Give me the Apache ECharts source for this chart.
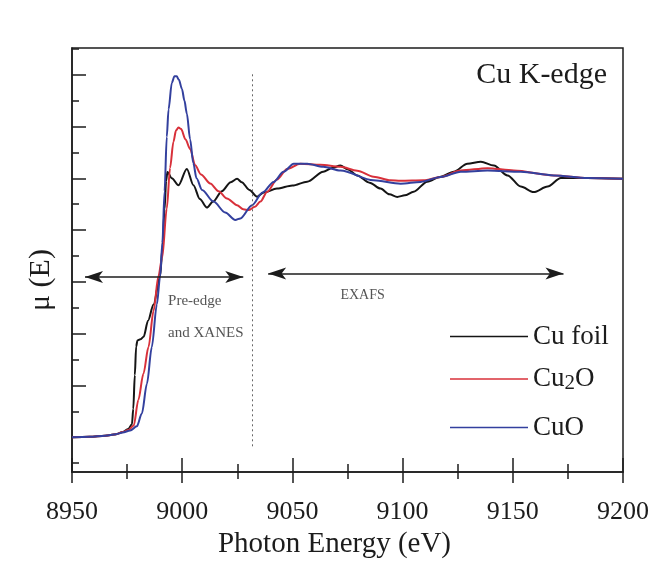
<!DOCTYPE html>
<html>
<head>
<meta charset="utf-8">
<script src="https://cdn.jsdelivr.net/npm/echarts@6/dist/echarts.min.js"></script>
<style>
  html, body { margin: 0; padding: 0; background: #fff; }
  #chart { width: 654px; height: 564px; }
</style>
</head>
<body>
<div id="chart"></div>
<script>
// axis ranges and ticks
const energyRange = [8950, 9200]
const muRange = [0.0654, 1.703]
const energyStep = 50
const muMajorTicks = [0.2, 0.4, 0.6, 0.8, 1.0, 1.2, 1.4, 1.6]
const muMinorTicks = [0.1, 0.3, 0.5, 0.7, 0.9, 1.1, 1.3, 1.5, 1.7]

// spectra: [photon energy (eV), mu(E)]
const cuFoil = [
  [8950, 0.200], [8958, 0.202], [8965, 0.206], [8970, 0.212], [8973, 0.220],
  [8975.5, 0.232], [8977.2, 0.250], [8977.8, 0.31], [8978.5, 0.44], [8979.1, 0.55],
  [8979.7, 0.574], [8981, 0.578], [8982.5, 0.588], [8984.5, 0.65], [8987, 0.713],
  [8990, 0.822], [8991, 0.93], [8992, 1.08], [8992.7, 1.19], [8993.3, 1.224],
  [8995.3, 1.200], [8998.3, 1.173], [9002.1, 1.236], [9005.1, 1.173], [9008, 1.120],
  [9011.2, 1.087], [9014, 1.110], [9018, 1.150], [9022, 1.185], [9024.9, 1.198],
  [9027, 1.185], [9030.5, 1.155], [9034, 1.129], [9037, 1.145], [9043, 1.160],
  [9050, 1.172], [9056.7, 1.187], [9064, 1.225], [9068, 1.240], [9071.8, 1.249],
  [9075, 1.235], [9079.4, 1.211], [9085, 1.183], [9090, 1.160], [9094, 1.138],
  [9097.6, 1.128], [9101, 1.134], [9105, 1.148], [9111.2, 1.187], [9117.3, 1.206],
  [9123.2, 1.225], [9129.4, 1.256], [9135.5, 1.264], [9141.4, 1.249], [9147.6, 1.211],
  [9153.6, 1.168], [9159.5, 1.147], [9165.8, 1.168], [9171.8, 1.201], [9184, 1.201],
  [9200, 1.198]
]
const cu2o = [
  [8950, 0.200], [8958, 0.202], [8965, 0.206], [8970, 0.212], [8973, 0.220],
  [8975.5, 0.228], [8978, 0.245], [8980.1, 0.344], [8982.4, 0.445], [8984.7, 0.548],
  [8987, 0.688], [8989.2, 0.822], [8990.9, 0.892], [8993, 1.083], [8994.5, 1.240],
  [8996, 1.340], [8997.2, 1.385], [8998.3, 1.396], [8999.5, 1.390], [9001.5, 1.350],
  [9003.6, 1.313], [9005.9, 1.250], [9008.5, 1.215], [9012.7, 1.180], [9016.5, 1.150],
  [9020.3, 1.122], [9024.9, 1.096], [9027.7, 1.080], [9030.1, 1.077], [9033, 1.090],
  [9035.5, 1.110], [9038.5, 1.147], [9043, 1.195], [9047.6, 1.236], [9053.6, 1.256],
  [9062.7, 1.252], [9071.8, 1.244], [9079.4, 1.229], [9086.8, 1.206], [9094.5, 1.192],
  [9099, 1.190], [9109.5, 1.192], [9117.3, 1.205], [9126.4, 1.230], [9138.5, 1.239],
  [9150.5, 1.230], [9168.6, 1.211], [9184, 1.201], [9200, 1.198]
]
const cuO = [
  [8950, 0.200], [8958, 0.202], [8965, 0.206], [8970, 0.212], [8973, 0.218],
  [8976.4, 0.226], [8979.4, 0.242], [8981.7, 0.292], [8984, 0.407], [8986.2, 0.548],
  [8988.5, 0.713], [8990, 0.822], [8991, 0.950], [8992, 1.150], [8993, 1.360],
  [8993.8, 1.466], [8995.3, 1.569], [8996.5, 1.594], [8997.5, 1.594], [8998.5, 1.580],
  [8999.9, 1.545], [9001, 1.500], [9002.1, 1.450], [9003.6, 1.350], [9005, 1.260],
  [9006.5, 1.200], [9009, 1.155], [9014.2, 1.110], [9019.5, 1.068], [9024.1, 1.039],
  [9026.4, 1.045], [9031.7, 1.096], [9036.5, 1.145], [9041.5, 1.186], [9046, 1.225],
  [9050.6, 1.256], [9056.7, 1.256], [9064, 1.244], [9071.8, 1.230], [9086.8, 1.192],
  [9099.1, 1.179], [9108.2, 1.186], [9117.3, 1.205], [9126.4, 1.225], [9138.5, 1.230],
  [9153.6, 1.225], [9168.6, 1.211], [9184, 1.201], [9200, 1.198]
]

// annotations
const edgeDivider = 9031.8
const dividerSpan = [0.165, 1.611]
const xanesArrow = [8955.9, 9027.7]
const xanesArrowMu = 0.819
const exafsArrow = [9039, 9173]
const exafsArrowMu = 0.832
const notes = [
  { text: 'Pre-edge', at: [8993.6, 0.727], size: 15 },
  { text: 'and XANES', at: [8993.6, 0.601], size: 15 },
  { text: 'EXAFS', at: [9071.8, 0.747], size: 14 }
]

const serif = "'Liberation Serif', 'DejaVu Serif', serif"
const ink = '#1c1c1c'
const colors = { 'Cu foil': '#151515', 'Cu2O': '#d8303a', 'CuO': '#33409e' }

const chart = echarts.init(document.getElementById('chart'))

const baseX = {
  type: 'value',
  min: energyRange[0],
  max: energyRange[1],
  interval: energyStep,
  position: 'bottom',
  splitLine: { show: false }
}
const baseY = {
  type: 'value',
  min: muRange[0],
  max: muRange[1],
  position: 'left',
  splitLine: { show: false },
  axisLabel: { show: false }
}

const legendFor = (name, top) => ({
  data: [name],
  left: 450,
  top,
  padding: 0,
  icon: 'path://M0,0 L100,0 L100,2 L0,2 Z',
  itemWidth: 78,
  itemHeight: 2,
  selectedMode: false,
  formatter: (n) => (n === 'Cu2O' ? '{n|Cu}{s|2}{n|O}' : '{n|' + n + '}'),
  textStyle: {
    color: ink,
    rich: {
      n: { fontFamily: serif, fontSize: 27, lineHeight: 30, color: ink, verticalAlign: 'middle' },
      s: { fontFamily: serif, fontSize: 21, lineHeight: 21, color: ink, verticalAlign: 'bottom', padding: [16, 0, 0, 0] }
    }
  }
})

const lineSeries = (name, data, extra) => Object.assign({
  name,
  type: 'line',
  data,
  symbol: 'none',
  smooth: 0.3,
  smoothMonotone: 'x',
  lineStyle: { width: 2, color: colors[name] },
  itemStyle: { color: colors[name] },
  emphasis: { disabled: true },
  z: 3
}, extra || {})

chart.setOption({
  animation: false,
  backgroundColor: '#fff',
  title: {
    text: 'Cu K-edge',
    right: 47,
    top: 60,
    padding: 0,
    textStyle: { fontFamily: serif, fontSize: 30, fontWeight: 'normal', color: ink }
  },
  legend: [
    legendFor('Cu foil', 323),
    legendFor('Cu2O', 357),
    legendFor('CuO', 414)
  ],
  grid: {
    left: 72,
    right: 31,
    top: 48,
    bottom: 88,
    show: true,
    borderColor: ink,
    borderWidth: 1.5,
    backgroundColor: 'transparent'
  },
  xAxis: [
    Object.assign({}, baseX, {
      name: 'Photon Energy (eV)',
      nameLocation: 'middle',
      nameGap: 54,
      nameTextStyle: { fontFamily: serif, fontSize: 29, color: ink, padding: [0, 26, 0, 0] },
      axisLine: { lineStyle: { color: ink, width: 1.5 } },
      axisTick: { inside: true, length: 14, lineStyle: { color: ink, width: 1.5 } },
      minorTick: { show: true, splitNumber: 2, length: 8, lineStyle: { color: ink, width: 1.5 } },
      axisLabel: { fontFamily: serif, fontSize: 26, color: ink, margin: 27, formatter: (v) => String(v) }
    }),
    Object.assign({}, baseX, {
      axisLine: { show: false },
      axisTick: { inside: false, length: 11, lineStyle: { color: ink, width: 1.5 } },
      minorTick: { show: true, splitNumber: 2, length: 7, lineStyle: { color: ink, width: 1.5 } },
      axisLabel: { show: false }
    })
  ],
  yAxis: [
    Object.assign({}, baseY, {
      name: 'μ (E)',
      nameLocation: 'middle',
      nameGap: 16,
      nameTextStyle: { fontFamily: serif, fontSize: 30, color: ink, padding: [0, 40, 0, 0] },
      axisLine: { lineStyle: { color: ink, width: 1.5 } },
      axisTick: { inside: true, length: 14, customValues: muMajorTicks, lineStyle: { color: ink, width: 1.5 } }
    }),
    Object.assign({}, baseY, {
      axisLine: { show: false },
      axisTick: { inside: true, length: 7, customValues: muMinorTicks, lineStyle: { color: ink, width: 1.5 } }
    })
  ],
  series: [
    lineSeries('Cu foil', cuFoil, {
      markLine: {
        silent: true,
        animation: false,
        label: { show: false },
        lineStyle: { color: '#666', width: 1, type: [2, 3] },
        symbol: 'none',
        data: [[
          { coord: [edgeDivider, dividerSpan[0]] },
          { coord: [edgeDivider, dividerSpan[1]] }
        ]]
      }
    }),
    lineSeries('Cu2O', cu2o, {
      markLine: {
        silent: true,
        animation: false,
        label: { show: false },
        lineStyle: { color: ink, width: 1.5, type: 'solid' },
        symbol: ['arrow', 'arrow'],
        symbolSize: [9, 18],
        data: [
          [{ coord: [xanesArrow[0], xanesArrowMu] }, { coord: [xanesArrow[1], xanesArrowMu] }],
          [{ coord: [exafsArrow[0], exafsArrowMu] }, { coord: [exafsArrow[1], exafsArrowMu] }]
        ]
      }
    }),
    lineSeries('CuO', cuO)
  ]
})

// small text notes, placed from data coordinates
chart.setOption({
  graphic: notes.map((n) => {
    const p = chart.convertToPixel({ gridIndex: 0 }, n.at)
    return {
      type: 'text',
      x: p[0],
      y: p[1],
      silent: true,
      style: {
        text: n.text,
        fontFamily: serif,
        fontSize: n.size,
        fill: '#555',
        verticalAlign: 'middle'
      }
    }
  })
})
</script>
</body>
</html>
